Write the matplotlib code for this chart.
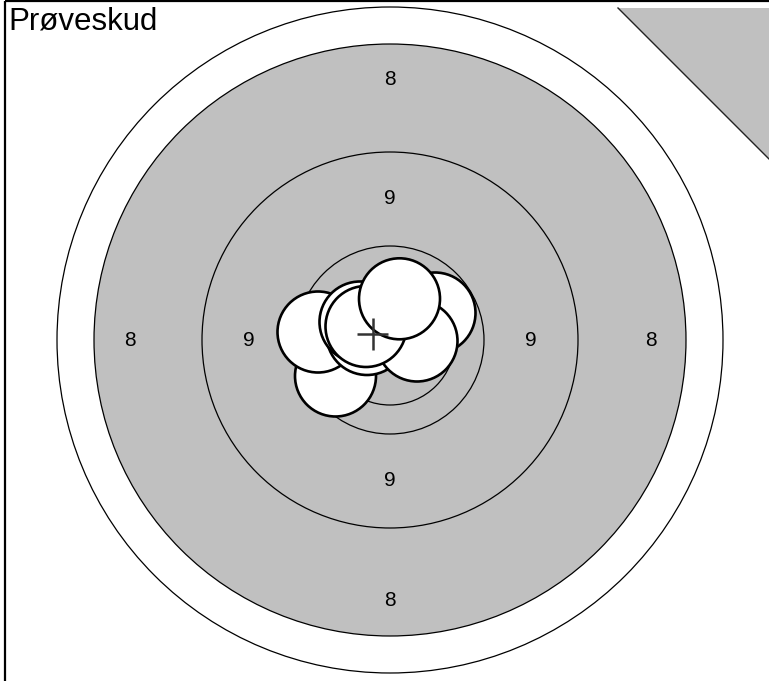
import matplotlib
matplotlib.use("Agg")
import matplotlib.pyplot as plt
from matplotlib.patches import Circle, Polygon, Rectangle

# ---- data (units: target units, centre = 0, y grows downward) ----
ring_radii = [333, 188, 94, 65]          # ring outlines
aim_radius = 296                          # grey aiming disc
ring_labels = ["8", "9"]                  # label of band between ring_radii[i] and ring_radii[i+1]
shot_x = [-54.5, -72, -23, -30, 45, 27, -24, 9.5]
shot_y = [36, -8, -5.5, -18, -27, 1, -13.5, -41.2]
shot_radius = 40.5
mean_x = [-17.3]
mean_y = [-5.7]
title = "Prøveskud"

GREY = "#c0c0c0"

fig = plt.figure(figsize=(7.69, 6.81), dpi=100)
ax = fig.add_axes([0, 0, 1, 1])
ax.set_xlim(-390, 379)
ax.set_ylim(341, -340)
ax.set_axis_off()

# outer ring (white)
ax.add_patch(Circle((0, 0), ring_radii[0], facecolor="white", edgecolor="black", lw=0.9, zorder=1))
# grey aiming disc
ax.add_patch(Circle((0, 0), aim_radius, facecolor=GREY, edgecolor="black", lw=0.9, zorder=2))
# inner rings
for r in ring_radii[1:]:
    ax.add_patch(Circle((0, 0), r, facecolor="none", edgecolor="black", lw=0.9, zorder=3))

# ring labels at band mid-points
for i, lab in enumerate(ring_labels):
    d = (ring_radii[i] + ring_radii[i + 1]) / 2
    for dx, dy in [(-d, 0), (d, 0), (0, -d), (0, d)]:
        ax.text(dx, dy, lab, ha="center", va="center", fontsize=15,
                family="Liberation Sans", color="black", zorder=4)

# shots
for x, y in zip(shot_x, shot_y):
    ax.add_patch(Circle((x, y), shot_radius, facecolor="white", edgecolor="black", lw=1.9, zorder=5))

# mean-point cross
for mx, my in zip(mean_x, mean_y):
    ax.plot([mx - 15.5, mx + 15.5], [my, my], color="#333333", lw=1.8, zorder=6, solid_capstyle="butt")
    ax.plot([mx, mx], [my - 16, my + 16], color="#333333", lw=1.8, zorder=6, solid_capstyle="butt")

# practice-shot corner triangle
ax.add_patch(Polygon([(228, -332), (400, -332), (400, -160)], closed=True,
                     facecolor=GREY, edgecolor="none", zorder=1))
ax.plot([228, 400], [-332, -160], color="#222222", lw=1.0, zorder=2)

# frame (left and top edges visible)
ax.add_patch(Rectangle((-385, -339), 2000, 2000, fill=False, edgecolor="black", lw=1.6, zorder=7))

ax.text(-382, -334, title, ha="left", va="top", fontsize=22.5,
        family="Liberation Sans", color="black", zorder=8)

fig.savefig("out.png", dpi=100)
